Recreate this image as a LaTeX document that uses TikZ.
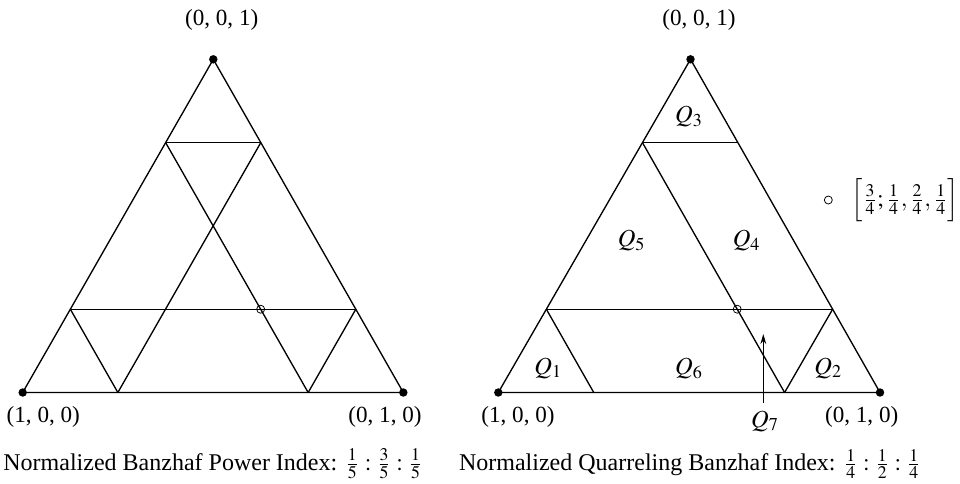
\documentclass[tikz,border=0pt]{standalone}
\usepackage{mathptmx}
\usepackage{fontspec}
\setmainfont{Liberation Serif}
\usetikzlibrary{arrows.meta,positioning,calc}
\tikzset{
  edge/.style={line width=0.6pt,draw=black},
  vertexdot/.style={circle,fill=black,inner sep=0pt,minimum size=3.8pt},
  ringdot/.style={circle,draw=black,line width=0.35pt,inner sep=0pt,minimum size=3.6pt},
  cornerlabel/.style={font=\fontsize{10.4}{12}\selectfont},
  regionlabel/.style={font=\fontsize{11}{13}\selectfont},
  captiontext/.style={font=\fontsize{10.8}{13}\selectfont},
  pointer/.style={-{Stealth[length=4.5pt,width=2.6pt]},line width=0.5pt}
}
\begin{document}
\begin{tikzpicture}[x=0.45pt,y=-0.45pt]
\useasboundingbox (0,0) rectangle (960,483);

% left simplex
\coordinate (la) at (22.7,392.5);
\coordinate (lb) at (403.3,392.5);
\coordinate (lc) at (213.3,59.3);
\draw[edge] (la) -- (lb) -- (lc) -- cycle;
\draw[edge] (barycentric cs:la=1,lc=3) -- (barycentric cs:lb=1,lc=3);
\draw[edge] (barycentric cs:la=3,lc=1) -- (barycentric cs:lb=3,lc=1);
\draw[edge] (barycentric cs:la=1,lc=3) -- (barycentric cs:la=1,lb=3);
\draw[edge] (barycentric cs:lb=1,lc=3) -- (barycentric cs:la=3,lb=1);
\draw[edge] (barycentric cs:la=3,lc=1) -- (barycentric cs:la=3,lb=1);
\draw[edge] (barycentric cs:lb=3,lc=1) -- (barycentric cs:la=1,lb=3);
\node[ringdot] (lmark) at (barycentric cs:la=1,lb=2,lc=1) {};
\node[vertexdot] at (la) {};
\node[vertexdot] at (lb) {};
\node[vertexdot] at (lc) {};
\node[cornerlabel] (lctop) at (221.7,20) {(0, 0, 1)};
\node[cornerlabel] (laleft) at (43.3,416.5) {(1, 0, 0)};
\node[cornerlabel] (lbright) at (385,416.5) {(0, 1, 0)};
\node[captiontext] (lcap) at (213,464) {Normalized Banzhaf Power Index: $\frac{1}{5}:\frac{3}{5}:\frac{1}{5}$};

% right simplex
\coordinate (ra) at (498.3,392.5);
\coordinate (rb) at (880,392.5);
\coordinate (rc) at (690.5,59.3);
\draw[edge] (ra) -- (rb) -- (rc) -- cycle;
\draw[edge] (barycentric cs:ra=1,rc=3) -- (barycentric cs:rb=1,rc=3);
\draw[edge] (barycentric cs:ra=3,rc=1) -- (barycentric cs:rb=3,rc=1);
\draw[edge] (barycentric cs:ra=1,rc=3) -- (barycentric cs:ra=1,rb=3);
\draw[edge] (barycentric cs:ra=3,rc=1) -- (barycentric cs:ra=3,rb=1);
\draw[edge] (barycentric cs:rb=3,rc=1) -- (barycentric cs:ra=1,rb=3);
\node[ringdot] (rmark) at (barycentric cs:ra=1,rb=2,rc=1) {};
\node[vertexdot] at (ra) {};
\node[vertexdot] at (rb) {};
\node[vertexdot] at (rc) {};
\node[cornerlabel] (rctop) at (699,20) {(0, 0, 1)};
\node[cornerlabel] (raleft) at (518,416.5) {(1, 0, 0)};
\node[cornerlabel] (rbright) at (861.7,416.5) {(0, 1, 0)};
\node[regionlabel] (q3) at (689,117) {$Q_3$};
\node[regionlabel] (q5) at (631.7,240.7) {$Q_5$};
\node[regionlabel] (q4) at (746.7,240.7) {$Q_4$};
\node[regionlabel] (q1) at (548.3,368.3) {$Q_1$};
\node[regionlabel] (q6) at (689,368.3) {$Q_6$};
\node[regionlabel] (q2) at (828.3,368.3) {$Q_2$};
\node[regionlabel] (q7) at (765,421) {$Q_7$};
\coordinate (q7tip) at (763.3,334);
\draw[pointer] (q7.north -| q7tip) -- (q7tip);
\node[captiontext] (rcap) at (690,464) {Normalized Quarreling Banzhaf Index: $\frac{1}{4}:\frac{1}{2}:\frac{1}{4}$};

% legend
\node[ringdot] (legmark) at (828.3,200) {};
\node[captiontext,right=5pt of legmark] (legtext) {$\Bigl[\frac{3}{4};\frac{1}{4},\frac{2}{4},\frac{1}{4}\Bigr]$};
\end{tikzpicture}
\end{document}
